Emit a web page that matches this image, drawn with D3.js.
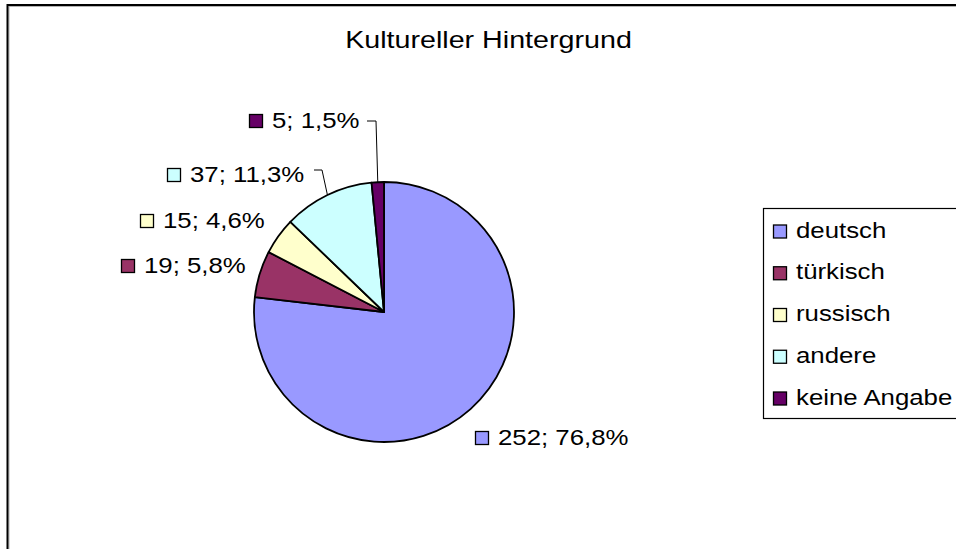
<!DOCTYPE html>
<html>
<head>
<meta charset="utf-8">
<script src="https://cdn.jsdelivr.net/npm/d3@7"></script>
<style>
  body { margin: 0; background: #fff; }
  text { font-family: 'Liberation Sans', Arial, sans-serif; fill: #000; }
</style>
</head>
<body>
<div id="root"></div>
<script>
const width = 956;
const height = 549;

const categories = ['deutsch', 'türkisch', 'russisch', 'andere', 'keine Angabe'];
const counts = [252, 19, 15, 37, 5];
const percentLabels = ['76,8%', '5,8%', '4,6%', '11,3%', '1,5%'];
const colors = ['#9999ff', '#993366', '#ffffcc', '#ccffff', '#660066'];

// label anchors (text start, baseline) as placed in the original chart
const labelLayout = [
  { x: 498, y: 445, leader: false },
  { x: 144, y: 273, leader: false },
  { x: 163, y: 228, leader: false },
  { x: 190, y: 182, leader: true, lx: [314, 322], ly: 170 },
  { x: 272, y: 128, leader: true, lx: [367, 376], ly: 121 },
];

const center = { x: 384, y: 312 };
const radius = 130;
const stretch = 1.2; // text in the original is drawn wide

const svg = d3
  .select('#root')
  .append('svg')
  .attr('width', width)
  .attr('height', height);

// Chart frame (runs off the right and bottom edge)

svg
  .append('rect')
  .attr('x', 9)
  .attr('y', 6.5)
  .attr('width', 1000)
  .attr('height', 1000)
  .attr('fill', 'none')
  .attr('stroke', '#b4b4b4')
  .attr('stroke-width', 1);

svg
  .append('rect')
  .attr('x', 7.5)
  .attr('y', 5)
  .attr('width', 1000)
  .attr('height', 1000)
  .attr('fill', 'none')
  .attr('stroke', '#000')
  .attr('stroke-width', 2);

// Title

svg
  .append('text')
  .attr('transform', `translate(488.5, 48) scale(1.22, 1)`)
  .attr('text-anchor', 'middle')
  .style('font-size', '23.5px')
  .text('Kultureller Hintergrund');

// Pie

const data = categories.map((c, i) => ({
  name: c,
  value: counts[i],
  pct: percentLabels[i],
  color: colors[i],
}));

const pie = d3.pie().value((d) => d.value).sort(null);
const arcs = pie(data);

const arc = d3.arc().innerRadius(0).outerRadius(radius);
const edge = d3.arc().innerRadius(radius).outerRadius(radius);

const g = svg
  .append('g')
  .attr('transform', `translate(${center.x}, ${center.y})`);

g.selectAll('path')
  .data(arcs)
  .enter()
  .append('path')
  .attr('d', arc)
  .attr('fill', (d) => d.data.color)
  .attr('stroke', '#000')
  .attr('stroke-width', 1.8)
  .attr('stroke-linejoin', 'round');

// Data labels

const labels = svg.append('g').attr('id', 'labels');

arcs.forEach((d, i) => {
  const p = labelLayout[i];

  labels
    .append('rect')
    .attr('x', p.x - 22.5)
    .attr('y', p.y - 13.5)
    .attr('width', 13)
    .attr('height', 13)
    .attr('fill', d.data.color)
    .attr('stroke', '#000')
    .attr('stroke-width', 1.3);

  labels
    .append('text')
    .attr('transform', `translate(${p.x}, ${p.y}) scale(${stretch}, 1)`)
    .style('font-size', '21.5px')
    .text(`${d.data.value}; ${d.data.pct}`);

  if (p.leader) {
    const [ex, ey] = edge.centroid(d);
    labels
      .append('polyline')
      .attr(
        'points',
        `${p.lx[0]},${p.ly} ${p.lx[1]},${p.ly} ${center.x + ex},${center.y + ey}`
      )
      .attr('fill', 'none')
      .attr('stroke', '#000')
      .attr('stroke-width', 1);
  }
});

// Legend

const legend = svg
  .append('g')
  .attr('id', 'legend')
  .attr('transform', 'translate(763.5, 208.5)');

legend
  .append('rect')
  .attr('width', 300)
  .attr('height', 210)
  .attr('fill', '#fff')
  .attr('stroke', '#000')
  .attr('stroke-width', 1.2);

const legendY = d3
  .scalePoint()
  .domain(categories)
  .range([29, 196]);

const item = legend
  .selectAll('.item')
  .data(data)
  .enter()
  .append('g')
  .attr('class', 'item')
  .attr('transform', (d) => `translate(0, ${legendY(d.name)})`);

item
  .append('rect')
  .attr('x', 10)
  .attr('y', -12.5)
  .attr('width', 13)
  .attr('height', 13)
  .attr('fill', (d) => d.color)
  .attr('stroke', '#000')
  .attr('stroke-width', 1.3);

item
  .append('text')
  .attr('transform', `translate(32.5, 0) scale(${stretch}, 1)`)
  .style('font-size', '21.5px')
  .text((d) => d.name);
</script>
</body>
</html>
